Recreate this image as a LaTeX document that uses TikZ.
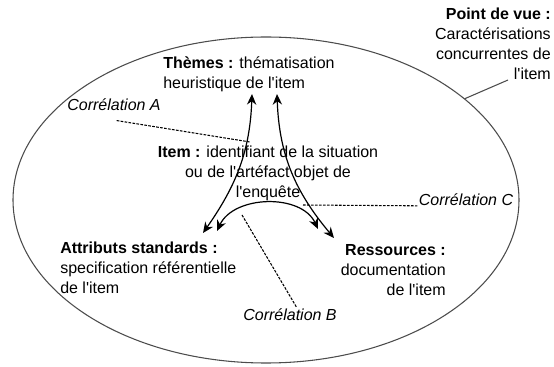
\documentclass[tikz,border=0pt]{standalone}
\usepackage{fontspec}
\setmainfont{Liberation Sans}
\usetikzlibrary{positioning}
\usetikzlibrary{shapes.geometric}
\usetikzlibrary{arrows.meta}
\newcommand{\apos}{\textquotesingle}
\tikzset{>={Stealth[length=8pt,width=7pt]}}
\tikzset{txt/.style={inner sep=0pt, font=\fontsize{12}{15}\selectfont}}
\tikzset{corr/.style={inner sep=1pt, font=\fontsize{12}{15}\selectfont\itshape}}
\tikzset{lien/.style={dash pattern=on 2pt off 1pt, line width=0.8pt}}

\begin{document}
\begin{tikzpicture}[x=0.75pt, y=-0.75pt]
        \useasboundingbox (0,0) rectangle (554,367);

        \node[draw=black!70, line width=0.8pt, ellipse, inner sep=0pt,
              minimum width=379.5pt, minimum height=244.5pt] (vue) at (266,200) {};

        \node[txt, align=right, anchor=north east] (pdv) at (551,8)
            {\textbf{Point de vue :}\\Caractérisations\\concurrentes de\\l\apos item};
        \node[txt, align=left, anchor=north west] (themes) at (163,56)
            {\textbf{Thèmes :} thématisation\\heuristique de l\apos item};
        \node[txt, align=center, anchor=north] (item) at (268,146)
            {\textbf{Item :} identifiant de la situation\\ou de l\apos artéfact objet de\\l\apos enquête};
        \node[txt, align=left, anchor=north west] (attr) at (60,242)
            {\textbf{Attributs standards :}\\specification référentielle\\de l\apos item};
        \node[txt, align=right, anchor=north east] (res) at (446,244)
            {\textbf{Ressources :}\\documentation\\de l\apos item};

        \node[corr] (corrA) at (114,105) {Corrélation A};
        \node[corr] (corrB) at (290,315) {Corrélation B};
        \node[corr] (corrC) at (466,200) {Corrélation C};

        % bouts des fleches
        \coordinate (tA) at (252,94);
        \coordinate (tR) at (277,94);
        \coordinate (aT) at (203,233);
        \coordinate (aR) at (217,231);
        \coordinate (rT) at (334,238);
        \coordinate (rA) at (318,229);
        \coordinate (ca) at (250,142);
        \coordinate (cb) at (242,215);
        \coordinate (cc) at (303,205);
        \coordinate (pv) at (508,80);

        \draw[<->, line width=0.9pt] (tA) to[out=-92, in=55] (aT);
        \draw[<->, line width=0.9pt] (tR) to[out=-88, in=130] (rT);
        \draw[<->, line width=0.9pt] (aR) to[out=65, in=115] (rA);

        \draw[lien] ([xshift=2pt, yshift=-6pt]corrA.south) -- (ca);
        \draw[lien] (cb) -- ([xshift=5pt]corrB.north);
        \draw[lien] (cc) -- (corrC.base west);

        \draw[black!70, line width=0.8pt] (vue.27) -- (pv);
\end{tikzpicture}
\end{document}
